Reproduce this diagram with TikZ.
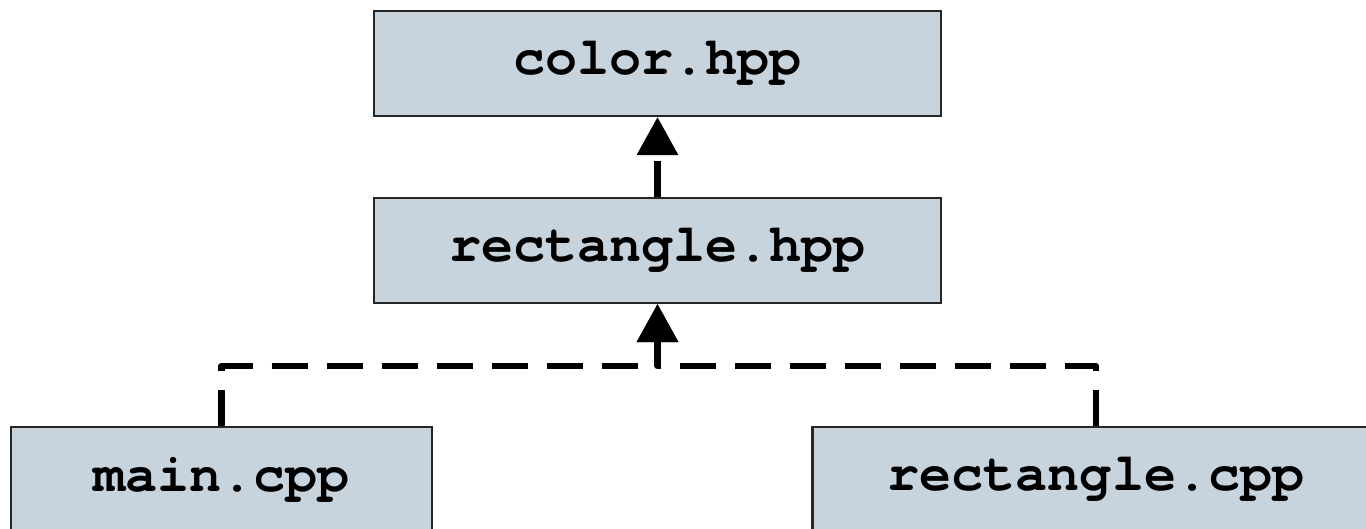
\documentclass[tikz,border=0pt]{standalone}
\usepackage{fontspec}
\newfontfamily\codefont{texgyrecursor}[Extension=.otf, UprightFont=*-regular, BoldFont=*-bold]
\usetikzlibrary{arrows.meta}

\definecolor{boxfill}{RGB}{200,212,221}

\tikzstyle{filebox}=[rectangle, draw=black!85, line width=0.6pt, fill=boxfill,
  minimum width=5.67cm, minimum height=1.05cm, inner sep=0pt,
  font=\fontsize{15.2}{18}\selectfont\codefont\bfseries]
\tikzstyle{deparrow}=[-{Triangle[length=0.38cm,width=0.40cm]}, line width=0.065cm,
  dash pattern=on 0.36cm off 0.19cm, line join=round]

\begin{document}
\begin{tikzpicture}

		    \useasboundingbox (0,0) rectangle (13.66,5.29);

		    \node (colorhpp) at (6.575, 4.655) [filebox] {color.hpp};
		    \node (recthpp) at (6.575, 2.785) [filebox] {rectangle.hpp};
		    \node (maincpp) at (2.215, 0.495) [filebox, minimum width=4.21cm] {main.cpp};
		    \node (rectcpp) at (10.96, 0.495) [filebox] {rectangle.cpp};

		    \coordinate (join) at (6.575, 1.63);

			\draw[deparrow] (recthpp) -- (colorhpp);
			\draw[deparrow] (maincpp.north) |- (join) -- (recthpp.south);
			\draw[deparrow] (rectcpp.north) |- (join) -- (recthpp.south);
		\end{tikzpicture}
\end{document}
